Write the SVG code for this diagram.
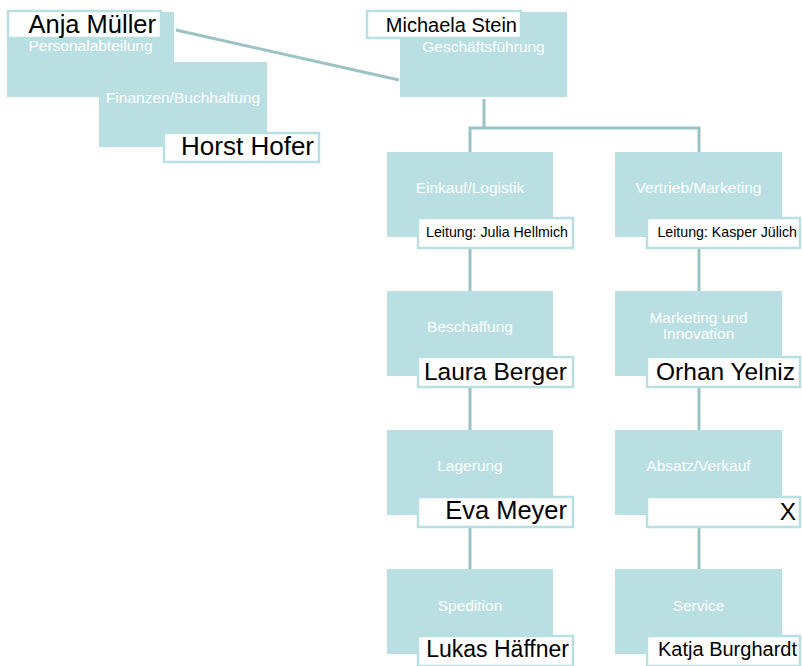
<svg xmlns="http://www.w3.org/2000/svg" width="802" height="666" viewBox="0 0 802 666">
  <style>
    .box { fill: #b9dfe2; }
    .dept { fill: #ffffff; font-family: "Liberation Sans", Arial, sans-serif; font-size: 15.5px; text-anchor: middle; }
    .tag { fill: #ffffff; stroke: #b9dfe2; stroke-width: 2.5; }
    .name { fill: #000000; font-family: "Liberation Sans", Arial, sans-serif; text-anchor: end; }
    .big { font-size: 24.5px; }
    .mid { font-size: 20px; }
    .small { font-size: 14.2px; }
    .link { fill: none; stroke: #9dc2c5; stroke-width: 3; }
  </style>

  <!-- connectors -->
  <g id="connectors">
    <line class="link" x1="176" y1="30" x2="399" y2="80"/>
    <polyline class="link" points="484,99 484,128"/>
    <polyline class="link" points="470,152 470,128 699,128 699,152"/>
    <line class="link" x1="470" y1="237" x2="470" y2="291"/>
    <line class="link" x1="470" y1="376" x2="470" y2="430"/>
    <line class="link" x1="470" y1="515" x2="470" y2="569"/>
    <line class="link" x1="699" y1="237" x2="699" y2="291"/>
    <line class="link" x1="699" y1="376" x2="699" y2="430"/>
    <line class="link" x1="699" y1="515" x2="699" y2="569"/>
  </g>

  <!-- staff units -->
  <g id="personal">
    <rect class="box" x="7" y="12" width="167" height="85"/>
    <text class="dept" x="90.5" y="51">Personalabteilung</text>
    <rect class="tag" x="8" y="11" width="153" height="27"/>
    <text class="name" x="156" y="33" font-size="25.5">Anja Müller</text>
  </g>

  <g id="finanzen">
    <rect class="box" x="99" y="62" width="168" height="85"/>
    <text class="dept" x="183" y="103">Finanzen/Buchhaltung</text>
    <rect class="tag" x="164" y="133" width="155" height="29"/>
    <text class="name" x="314" y="155" font-size="26">Horst Hofer</text>
  </g>

  <!-- management -->
  <g id="geschaeftsfuehrung">
    <rect class="box" x="400" y="12" width="167" height="85"/>
    <text class="dept" x="483.5" y="52">Geschäftsführung</text>
    <rect class="tag" x="367" y="11" width="154" height="27"/>
    <text class="name mid" x="517" y="32">Michaela Stein</text>
  </g>

  <!-- left column -->
  <g id="einkauf">
    <rect class="box" x="387" y="152" width="166" height="85"/>
    <text class="dept" x="470" y="193">Einkauf/Logistik</text>
    <rect class="tag" x="418" y="218" width="155" height="30"/>
    <text class="name small" x="568" y="237">Leitung: Julia Hellmich</text>
  </g>

  <g id="beschaffung">
    <rect class="box" x="387" y="291" width="166" height="85"/>
    <text class="dept" x="470" y="332">Beschaffung</text>
    <rect class="tag" x="418" y="357" width="155" height="30"/>
    <text class="name big" x="567" y="380">Laura Berger</text>
  </g>

  <g id="lagerung">
    <rect class="box" x="387" y="430" width="166" height="85"/>
    <text class="dept" x="470" y="471">Lagerung</text>
    <rect class="tag" x="418" y="497" width="155" height="30"/>
    <text class="name" x="567" y="519" font-size="25.5">Eva Meyer</text>
  </g>

  <g id="spedition">
    <rect class="box" x="387" y="569" width="166" height="85"/>
    <text class="dept" x="470" y="611">Spedition</text>
    <rect class="tag" x="418" y="636" width="155" height="30"/>
    <text class="name" x="569" y="657" font-size="23">Lukas Häffner</text>
  </g>

  <!-- right column -->
  <g id="vertrieb">
    <rect class="box" x="615" y="152" width="167" height="85"/>
    <text class="dept" x="698.5" y="193">Vertrieb/Marketing</text>
    <rect class="tag" x="647" y="218" width="153" height="30"/>
    <text class="name small" x="797" y="237">Leitung: Kasper Jülich</text>
  </g>

  <g id="marketing">
    <rect class="box" x="615" y="291" width="167" height="85"/>
    <text class="dept" x="698.5" y="323">Marketing und</text>
    <text class="dept" x="698.5" y="339">Innovation</text>
    <rect class="tag" x="647" y="357" width="153" height="30"/>
    <text class="name big" x="795" y="380">Orhan Yelniz</text>
  </g>

  <g id="absatz">
    <rect class="box" x="615" y="430" width="167" height="85"/>
    <text class="dept" x="698.5" y="471">Absatz/Verkauf</text>
    <rect class="tag" x="647" y="497" width="153" height="30"/>
    <text class="name big" x="796" y="520">X</text>
  </g>

  <g id="service">
    <rect class="box" x="615" y="569" width="167" height="85"/>
    <text class="dept" x="698.5" y="611">Service</text>
    <rect class="tag" x="647" y="636" width="153" height="30"/>
    <text class="name mid" x="797" y="656">Katja Burghardt</text>
  </g>
</svg>
